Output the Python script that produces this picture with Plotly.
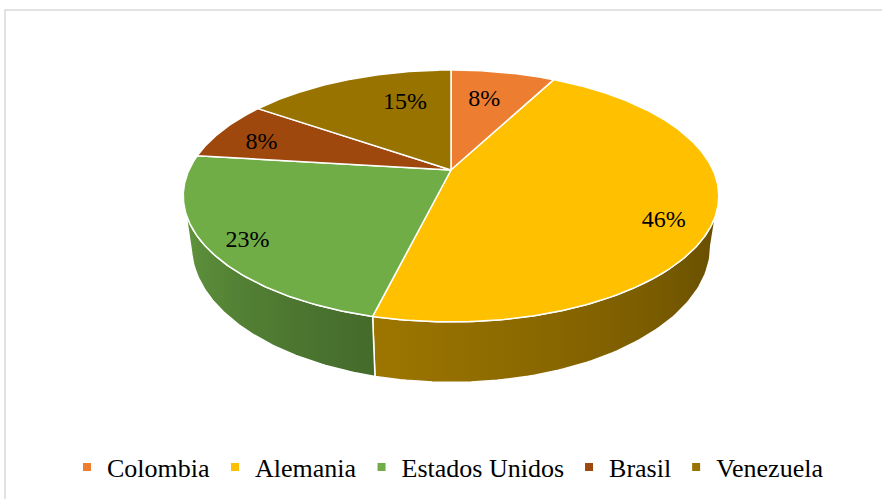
import numpy as np
import plotly.graph_objects as go

# ---- data (shares in %, as drawn; labels show rounded values) ----
categories = ["Colombia", "Alemania", "Estados Unidos", "Brasil", "Venezuela"]
values = [7.7, 46.2, 23.1, 7.7, 15.4]
colors = ["#ED7D31", "#FFC000", "#70AD47", "#9E480E", "#997300"]

# ---- 3D pie geometry (pixel space, perspective-like projection) ----
W, H = 882, 499
CX, CY = 451, 170          # apex of the pie (projected centre)
A, B, P = 262.0, 85.6, 0.206
DEPTH, SHRINK = 48.0, 0.97
label_r = [0.74, 0.83, 0.85, 0.82, 0.72]        # label placement (style)
label_dtheta = [-2.5, 4.0, 0.0, 0.0, 11.5]      # label placement (style)
LABEL_DY = 6
SERIF = "Liberation Serif"


def proj(theta_deg, r=1.0):
    t = np.radians(theta_deg)
    u = r * np.sin(t)
    v = r * np.cos(t)
    den = 1 + P * v
    return CX + A * u / den, (CY - B * v) / den, den


def shade(theta):
    return np.interp(theta, [101.9, 194.0, 258.1], [0.38, 0.62, 0.90])


def hex_scale(c, f):
    c = c.lstrip("#")
    r, g, b = (int(c[i:i + 2], 16) for i in (0, 2, 4))
    return "rgb(%d,%d,%d)" % (min(255, r * f), min(255, g * f), min(255, b * f))


total = float(sum(values))
ends = np.cumsum(values) / total * 360.0
starts = np.concatenate([[0.0], ends[:-1]])

vis_lo = np.degrees(np.arccos(-P))
vis_hi = 360.0 - vis_lo

fig = go.Figure()

# side walls
for cat, c, s, e in zip(categories, colors, starts, ends):
    lo, hi = max(s, vis_lo), min(e, vis_hi)
    if hi <= lo:
        continue
    th = np.linspace(lo, hi, 80)
    xt, yt, den = proj(th)
    xb = CX + SHRINK * (xt - CX)
    yb = yt + DEPTH / den
    xs = np.concatenate([xt, xb[::-1], xt[:1]])
    ys = np.concatenate([yt, yb[::-1], yt[:1]])
    xmin, xmax = xs.min(), xs.max()
    ths = np.linspace(lo, hi, 14)
    xp, _, _ = proj(ths)
    pos = (xp - xmin) / (xmax - xmin)
    order = np.argsort(pos)
    stops = []
    for i in order:
        stops.append([float(np.clip(pos[i], 0, 1)), hex_scale(c, shade(ths[i]))])
    stops[0][0] = 0.0
    stops[-1][0] = 1.0
    fig.add_trace(go.Scatter(
        x=xs, y=ys, mode="lines", fill="toself",
        line=dict(color="white", width=1.5),
        fillgradient=dict(type="horizontal", colorscale=stops, start=xmin, stop=xmax),
        hoverinfo="skip", showlegend=False))

# top faces
for cat, c, s, e in zip(categories, colors, starts, ends):
    th = np.linspace(s, e, max(10, int((e - s) * 2)))
    xt, yt, _ = proj(th)
    xs = np.concatenate([[CX], xt, [CX]])
    ys = np.concatenate([[CY], yt, [CY]])
    fig.add_trace(go.Scatter(
        x=xs, y=ys, mode="lines", fill="toself", fillcolor=c,
        line=dict(color="white", width=1.5),
        hoverinfo="skip", showlegend=False))

# labels
mids = (starts + ends) / 2
lx, ly = [], []
for m, r, dt in zip(mids, label_r, label_dtheta):
    x, y, _ = proj(m + dt, r)
    lx.append(x)
    ly.append(y + LABEL_DY)
fig.add_trace(go.Scatter(
    x=lx, y=ly, mode="text",
    text=["%d%%" % round(v / total * 100) for v in values],
    textfont=dict(family=SERIF, size=24, color="black"),
    hoverinfo="skip", showlegend=False))

# legend entries
for cat, c in zip(categories, colors):
    fig.add_trace(go.Scatter(
        x=[None], y=[None], mode="markers", name=cat,
        marker=dict(symbol="square", size=8, color=c)))

fig.add_shape(type="rect", xref="x", yref="y", x0=5, y0=10, x1=W + 30, y1=H + 30,
              line=dict(color="#d9d9d9", width=1.5), fillcolor="rgba(0,0,0,0)")

legend_cx, legend_cy = 448, 467   # pixels
fig.update_layout(
    width=W, height=H,
    margin=dict(l=0, r=0, t=0, b=0),
    paper_bgcolor="white", plot_bgcolor="white",
    font=dict(family=SERIF),
    xaxis=dict(range=[0, W], visible=False, fixedrange=True),
    yaxis=dict(range=[H, 0], visible=False, fixedrange=True),
    legend=dict(orientation="h",
                x=legend_cx / W, xanchor="center",
                y=1 - legend_cy / H, yanchor="middle",
                font=dict(family=SERIF, size=26, color="black"),
                bgcolor="rgba(0,0,0,0)", itemclick=False, itemdoubleclick=False),
    hovermode=False,
)

fig.write_html("out.html", config={"displayModeBar": False},
               post_script="document.body.style.margin='0px';")
